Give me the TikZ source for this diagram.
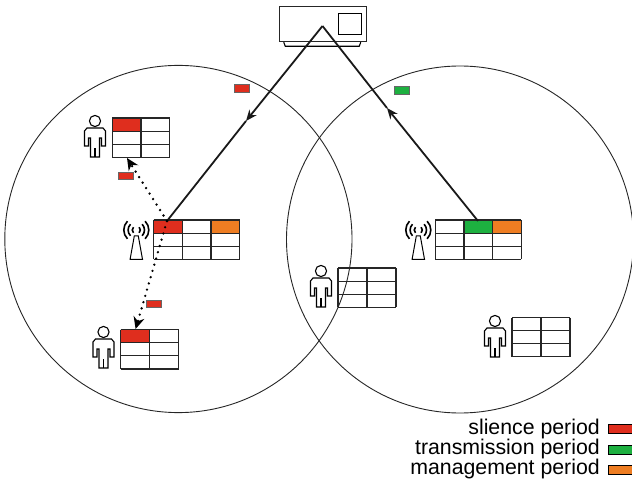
\documentclass[tikz,border=0pt]{standalone}
\usepackage{fontspec}
\setmainfont{Liberation Sans}
\usepackage{xcolor}
\usetikzlibrary{arrows.meta}

\definecolor{slotred}{HTML}{DF2E1E}
\definecolor{slotgreen}{HTML}{1DB040}
\definecolor{slotorange}{HTML}{EE7D22}

\tikzset{
  link/.style={line width=1.8pt,black!90},
  beam/.style={line width=2.6pt,line cap=round,dash pattern=on 0pt off 6.5pt,-{Stealth[length=12pt,width=11pt]}},
  packet/.style={draw=black!60,line width=0.7pt,minimum width=15pt,minimum height=7.5pt,inner sep=0pt},
  swatch/.style={draw=black,line width=0.8pt,minimum width=24pt,minimum height=9pt,inner sep=0pt},
  legendtext/.style={anchor=base east,inner sep=0pt,font=\fontsize{21.3}{22}\selectfont},
}

% table: top left corner, columns, width of a cell
\newcommand{\slottable}[3]{
  \begin{scope}[shift={(#1)},line width=1.1pt,black!85]
    \foreach \r in {0,...,3}
      \draw (0,\r*13.1) -- (#2*#3,\r*13.1);
    \foreach \c in {0,...,#2}
      \draw (\c*#3,0) -- (\c*#3,39.3);
  \end{scope}
}
% user: centre of the head
\newcommand{\usericon}[1]{
  \begin{scope}[shift={(#1)},line width=1.1pt]
    \draw (0,0) circle (5.6pt);
    \draw (-4.5,26) -- (-4.5,17) -- (-6.5,17) -- (-6.5,25) -- (-10.5,25) -- (-10.5,10) -- (-8,7) -- (8,7) -- (10.5,10) -- (10.5,25) -- (6.5,25) -- (6.5,17) -- (4.5,17) -- (4.5,36) -- (-4.5,36) -- cycle;
    \draw[line width=1.4pt] (0,36) -- (0,27);
  \end{scope}
}
% antenna: centre of the waves
\newcommand{\towericon}[1]{
  \begin{scope}[shift={(#1)},line width=1pt]
    \draw (-2,6) -- (2,6) -- (6.2,29.3) -- (-6.2,29.3) -- cycle;
    \foreach \rad in {4,8.2,12.5} {
      \draw[line width=1.6pt] (-45:\rad pt) arc (-45:45:\rad pt);
      \draw[line width=1.6pt] (135:\rad pt) arc (135:225:\rad pt);
    }
  \end{scope}
}

\begin{document}
\begin{tikzpicture}[x=1pt,y=-1pt]
\useasboundingbox (0,0) rectangle (632,481);

% Cells
\draw[line width=0.9pt,black!85] (178.4,239) circle (173.6pt);
\draw[line width=0.9pt,black!85] (460,239.5) circle (173.5pt);

% Slot colours
\fill[slotred] (153.7,220) rectangle ++(28.7,13.1);
\fill[slotorange] (211,220) rectangle ++(28.7,13.1);
\fill[slotgreen] (464,220) rectangle ++(28.7,13.1);
\fill[slotorange] (492.7,220) rectangle ++(28.7,13.1);
\fill[slotred] (112.3,118) rectangle ++(28.7,13.1);
\fill[slotred] (120.7,329.7) rectangle ++(29,13.1);

% Tables
\slottable{153.7,220}{3}{28.67}
\slottable{435.3,220}{3}{28.67}
\slottable{112.3,118}{2}{28.7}
\slottable{120.7,329.7}{2}{29}
\slottable{338,268}{2}{29}
\slottable{512,317.5}{2}{29}

% Users and antennas
\usericon{95,121}
\usericon{103.5,332}
\usericon{321,271}
\usericon{495,321}
\towericon{136.3,230}
\towericon{418.3,230}

% Controller
\node[draw,line width=1.1pt,black!85,minimum width=87pt,minimum height=35pt,inner sep=0pt] (ctrl) at (322.8,24.2) {};
\node[draw,line width=1.1pt,minimum width=23pt,minimum height=21pt,inner sep=0pt] (ctrlbox) at (349.8,23.9) {};
\draw[line width=1.1pt] (ctrl.south west)++(5,0) -- ++(1.5,4) -- ++(74,0) -- ++(1.5,-4);

% Links
\coordinate (apex) at (322.5,26);
\coordinate (apL) at (167,221);
\coordinate (apR) at (478,221);
\coordinate (markL) at (246,121);
\coordinate (markR) at (387,108);
\coordinate (userA) at (127,158);
\coordinate (userB) at (135.6,329);
\draw[link,-{Stealth[length=11pt,width=9pt]}] (apex) -- (markL);
\draw[link] (markL) -- (apL);
\draw[link,-{Stealth[length=11pt,width=9pt]}] (apR) -- (markR);
\draw[link] (markR) -- (apex);
\draw[beam] (apL) -- (userA);
\draw[beam] (apL) -- (userB);

% Packets
\node[packet,fill=slotred] (pktA) at (241.5,88.5) {};
\node[packet,fill=slotgreen] (pktB) at (401.5,90.5) {};
\node[packet,fill=slotred] (pktC) at (125.8,176) {};
\node[packet,fill=slotred] (pktD) at (154.3,304) {};

% Legend
\node[legendtext] (lblA) at (600,434) {slience period};
\node[legendtext] (lblB) at (600,454) {transmission period};
\node[legendtext] (lblC) at (600,474) {management period};
\node[swatch,fill=slotred] (keyA) at (620,428.5) {};
\node[swatch,fill=slotgreen] (keyB) at (620,449.5) {};
\node[swatch,fill=slotorange] (keyC) at (620,469.5) {};
\end{tikzpicture}
\end{document}
